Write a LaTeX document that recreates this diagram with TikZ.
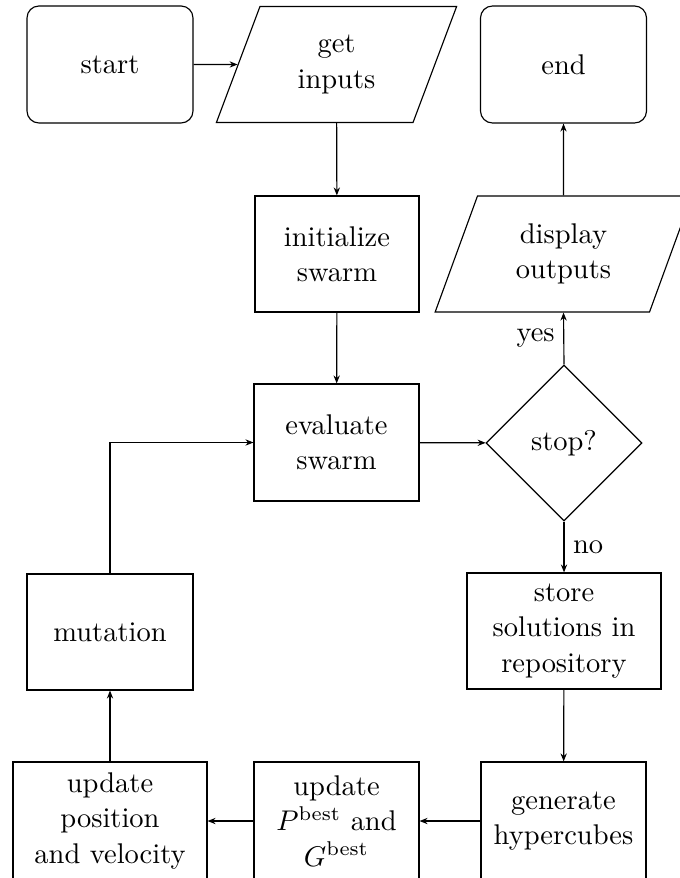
\documentclass[tikz,border=0pt]{standalone}
\usetikzlibrary{shapes.geometric,arrows.meta}
\def\pu{0.351pt}
\begin{document}
\begin{tikzpicture}[x=0.351pt,y=-0.351pt,
  base/.style={draw,align=center,inner sep=2pt,font=\fontsize{10}{12.4}\selectfont},
  terminal/.style={base,rectangle,rounded corners=4.2pt,minimum width=166*\pu,minimum height=117*\pu},
  process/.style={base,rectangle,minimum width=165*\pu,minimum height=117*\pu},
  io/.style={base,trapezium,trapezium left angle=70,trapezium right angle=110,trapezium stretches=true,minimum height=116*\pu},
  decision/.style={base,diamond,minimum width=156*\pu,minimum height=156*\pu,inner sep=0pt},
  flow/.style={-{Stealth[length=2.8pt,width=2.2pt]}},
  lbl/.style={inner sep=3pt}
]
\useasboundingbox (0,0) rectangle (679,878);
\node[terminal] (start) at (110,64.5) {start};
\node[io,minimum width=241*\pu] (inputs) at (336.5,64.5) {get\\inputs};
\node[terminal] (end) at (563.5,64.5) {end};
\node[process,minimum width=164*\pu,minimum height=116*\pu] (init) at (337,254) {initialize\\swarm};
\node[io,minimum width=257*\pu] (display) at (563.5,254) {display\\outputs};
\node[process] (eval) at (336.5,442.5) {evaluate\\swarm};
\node[decision] (stop) at (564,443) {stop?};
\node[process,minimum width=194*\pu,minimum height=116*\pu] (store) at (564,631) {store\\solutions in\\repository};
\node[process,minimum width=166*\pu,minimum height=116*\pu] (mut) at (110,632) {mutation};
\node[process,minimum width=194*\pu,minimum height=118*\pu] (upos) at (110,821) {update\\position\\and velocity};
\node[process,minimum height=118*\pu] (ubest) at (336.5,821) {update\\$P^{\mathrm{best}}$ and\\$G^{\mathrm{best}}$};
\node[process,minimum height=118*\pu] (gen) at (563.5,821) {generate\\hypercubes};

\draw[flow] (start) -- (inputs);
\draw[flow] (inputs) -- (init);
\draw[flow] (init) -- (eval);
\draw[flow] (eval) -- (stop);
\draw[flow] (stop.north) -- node[lbl,left] {yes} (display.south);
\draw[flow] (display) -- (end);
\draw[flow] (stop.south) -- node[lbl,right] {no} (store.north);
\draw[flow] (store) -- (gen);
\draw[flow] (gen) -- (ubest);
\draw[flow] (ubest) -- (upos);
\draw[flow] (upos) -- (mut);
\draw[flow] (mut.north) |- (eval.west);
\end{tikzpicture}
\end{document}
